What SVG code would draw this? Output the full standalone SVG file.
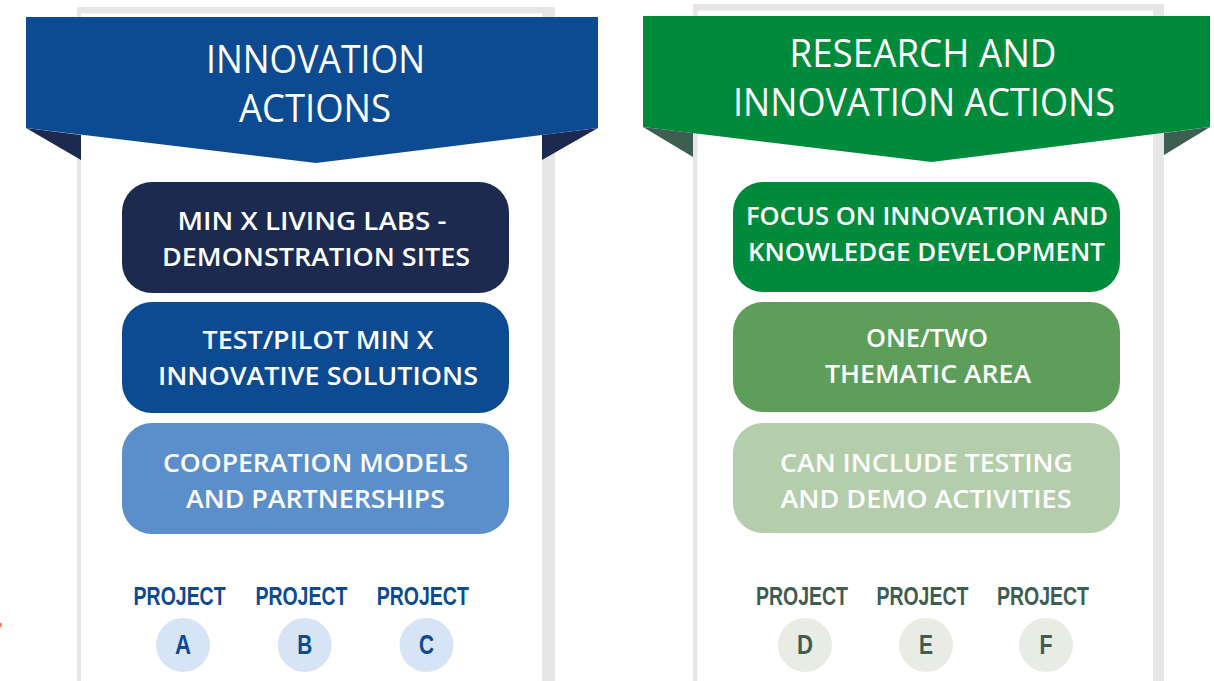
<svg xmlns="http://www.w3.org/2000/svg" width="1214" height="681" viewBox="0 0 1214 681">
<style>
.frame{fill:#e6e6e6}
.inner{fill:#ffffff}
.title{font-family:"Open Sans","Liberation Sans",Arial,sans-serif;font-weight:400;font-size:39px;fill:#ffffff;text-anchor:middle}
.btxt{font-family:"Open Sans","Liberation Sans",Arial,sans-serif;font-weight:600;font-size:25px;fill:#ffffff;text-anchor:middle}
.proj{font-family:"Liberation Sans",Arial,sans-serif;font-weight:bold;font-size:25px;text-anchor:middle}
.let{font-family:"Liberation Sans",Arial,sans-serif;font-weight:bold;font-size:27px;text-anchor:middle}
.blue{fill:#0c4a91}
.green{fill:#3d5e50}
</style>
<rect x="0" y="0" width="1214" height="681" fill="#ffffff"/>
<ellipse cx="0" cy="625" rx="2" ry="2.5" fill="#f08050"/>

<g id="panel-ia">
  <rect class="frame" x="77" y="7" width="478" height="700"/>
  <rect class="inner" x="81" y="13.5" width="461" height="700"/>
  <polygon points="26,128 81,135 81,160" fill="#1b2a4e"/>
  <polygon points="598,128 542,135 542,160" fill="#1b2a4e"/>
  <polygon points="26,17 598,17 598,128 316,163 26,128" fill="#0c4a91"/>
  <text class="title" x="315.5" y="73" textLength="219" lengthAdjust="spacingAndGlyphs">INNOVATION</text>
  <text class="title" x="315" y="121.7" textLength="152" lengthAdjust="spacingAndGlyphs">ACTIONS</text>
</g>

<g id="panel-ria">
  <rect class="frame" x="693" y="4" width="471" height="700"/>
  <rect class="inner" x="697.5" y="10.7" width="455.5" height="700"/>
  <polygon points="643,127 693,133 693,157" fill="#3d5e50"/>
  <polygon points="1210,127 1164,133 1164,155" fill="#3d5e50"/>
  <polygon points="643,16 1210,16 1210,127 931.5,162 643,127" fill="#008a3c"/>
  <text class="title" x="923" y="66.7" textLength="267" lengthAdjust="spacingAndGlyphs">RESEARCH AND</text>
  <text class="title" x="924" y="116" textLength="382" lengthAdjust="spacingAndGlyphs">INNOVATION ACTIONS</text>
</g>

<g id="box-living-labs">
  <rect x="122" y="182" width="387" height="111" rx="30" fill="#1b2a4e"/>
  <text class="btxt" x="312" y="230" textLength="269" lengthAdjust="spacingAndGlyphs">MIN X LIVING LABS -</text>
  <text class="btxt" x="316" y="265.7" textLength="308" lengthAdjust="spacingAndGlyphs">DEMONSTRATION SITES</text>
</g>
<g id="box-test-pilot">
  <rect x="122" y="302" width="387" height="111" rx="30" fill="#0c4a91"/>
  <text class="btxt" x="318" y="349" textLength="231" lengthAdjust="spacingAndGlyphs">TEST/PILOT MIN X</text>
  <text class="btxt" x="318" y="385" textLength="320" lengthAdjust="spacingAndGlyphs">INNOVATIVE SOLUTIONS</text>
</g>
<g id="box-cooperation">
  <rect x="122" y="423" width="387" height="111" rx="30" fill="#5b8fcb"/>
  <text class="btxt" x="315.5" y="471.7" textLength="305" lengthAdjust="spacingAndGlyphs">COOPERATION MODELS</text>
  <text class="btxt" x="315.5" y="507.7" textLength="259" lengthAdjust="spacingAndGlyphs">AND PARTNERSHIPS</text>
</g>

<g id="box-focus">
  <rect x="733" y="182" width="387" height="110" rx="30" fill="#008a3c"/>
  <text class="btxt" x="927" y="225" textLength="362" lengthAdjust="spacingAndGlyphs">FOCUS ON INNOVATION AND</text>
  <text class="btxt" x="926.5" y="261" textLength="357" lengthAdjust="spacingAndGlyphs">KNOWLEDGE DEVELOPMENT</text>
</g>
<g id="box-thematic">
  <rect x="733" y="302" width="387" height="110" rx="30" fill="#5c9e5a"/>
  <text class="btxt" x="927" y="346.7" textLength="122" lengthAdjust="spacingAndGlyphs">ONE/TWO</text>
  <text class="btxt" x="928" y="383" textLength="206" lengthAdjust="spacingAndGlyphs">THEMATIC AREA</text>
</g>
<g id="box-testing">
  <rect x="733" y="423" width="387" height="110" rx="30" fill="#b4ceab"/>
  <text class="btxt" x="926.5" y="471.7" textLength="293" lengthAdjust="spacingAndGlyphs">CAN INCLUDE TESTING</text>
  <text class="btxt" x="926" y="508" textLength="291" lengthAdjust="spacingAndGlyphs">AND DEMO ACTIVITIES</text>
</g>

<g id="project-a">
  <text class="proj blue" x="179.6" y="605" textLength="92" lengthAdjust="spacingAndGlyphs">PROJECT</text>
  <circle cx="183" cy="645" r="27" fill="#d6e4f5"/>
  <text class="let blue" x="183" y="654" textLength="16" lengthAdjust="spacingAndGlyphs">A</text>
</g>
<g id="project-b">
  <text class="proj blue" x="301.4" y="605" textLength="92" lengthAdjust="spacingAndGlyphs">PROJECT</text>
  <circle cx="304.7" cy="645" r="27" fill="#d6e4f5"/>
  <text class="let blue" x="304.7" y="654" textLength="15" lengthAdjust="spacingAndGlyphs">B</text>
</g>
<g id="project-c">
  <text class="proj blue" x="422.8" y="605" textLength="92" lengthAdjust="spacingAndGlyphs">PROJECT</text>
  <circle cx="426.5" cy="645" r="27" fill="#d6e4f5"/>
  <text class="let blue" x="426.5" y="654" textLength="15" lengthAdjust="spacingAndGlyphs">C</text>
</g>
<g id="project-d">
  <text class="proj green" x="802" y="605" textLength="92" lengthAdjust="spacingAndGlyphs">PROJECT</text>
  <circle cx="805" cy="645" r="27" fill="#e9ece4"/>
  <text class="let green" x="805" y="654" textLength="16" lengthAdjust="spacingAndGlyphs">D</text>
</g>
<g id="project-e">
  <text class="proj green" x="922.4" y="605" textLength="92" lengthAdjust="spacingAndGlyphs">PROJECT</text>
  <circle cx="926" cy="645" r="27" fill="#e9ece4"/>
  <text class="let green" x="926" y="654" textLength="14" lengthAdjust="spacingAndGlyphs">E</text>
</g>
<g id="project-f">
  <text class="proj green" x="1043" y="605" textLength="92" lengthAdjust="spacingAndGlyphs">PROJECT</text>
  <circle cx="1046" cy="645" r="27" fill="#e9ece4"/>
  <text class="let green" x="1046" y="654" textLength="13" lengthAdjust="spacingAndGlyphs">F</text>
</g>
<g id="connectors"></g>
</svg>
